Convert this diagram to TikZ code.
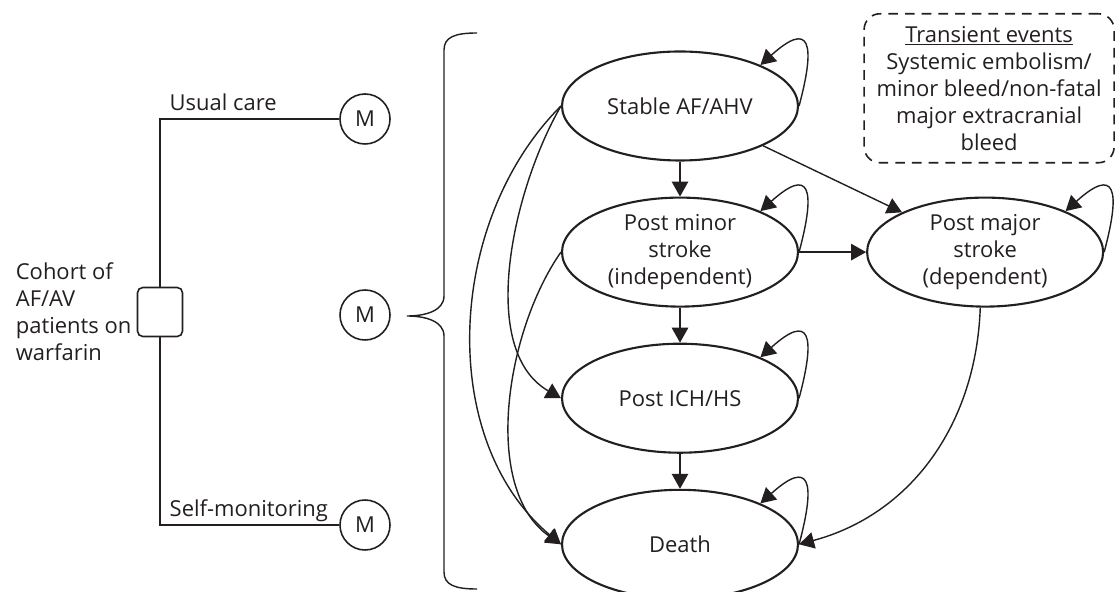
\documentclass[tikz,border=0pt]{standalone}
\usepackage{fontspec}
\setmainfont{Open Sans}
\definecolor{ink}{HTML}{231F20}
\usetikzlibrary{arrows.meta, positioning, shapes.geometric}
\tikzset{
	state/.style={draw=ink, ellipse, line width=1.2pt, minimum width=4.72cm, minimum height=2.18cm,
		inner sep=0pt, align=center},
	mnode/.style={draw=ink, circle, line width=0.9pt, minimum size=1cm, inner sep=0pt},
	decbox/.style={draw=ink, rounded corners=3pt, line width=0.9pt, minimum width=0.9cm, minimum height=0.98cm},
	notebox/.style={draw=ink, dash pattern=on 5.5pt off 4pt, rounded corners=9pt, line width=0.9pt,
		minimum width=5cm, minimum height=2.98cm, align=center, inner sep=0pt},
	tarr/.style={-{Triangle[length=3mm, width=3.3mm]}, line width=0.8pt, draw=ink},
	tline/.style={line width=0.8pt, draw=ink},
	lbl/.style={inner sep=0pt, anchor=base west, xshift=0.18cm, yshift=0.17cm},
	selfloop/.style={out=75, in=42, looseness=3}
}

\begin{document}
\begin{tikzpicture}[every node/.style={font=\fontsize{12.5}{15.4}\selectfont, text=ink}]
	\useasboundingbox (0,0) rectangle (22.32,11.84);
	% decision tree
	\node[decbox] (dec) at (3.2,5.6) {};
	\node[left=0.1cm of dec, align=left, inner sep=0pt] (cohort) {Cohort of\\AF/AV\\patients on\\warfarin};
	\node[mnode] (mtop) at (7.3,9.46) {M};
	\node[mnode] (mmid) at (7.3,5.54) {M};
	\node[mnode] (mbot) at (7.3,1.34) {M};
	\draw[tline] (dec.north) |- (mtop.west) node[lbl, pos=0.5] (ucare) {Usual care};
	\draw[tline] (dec.south) |- (mbot.west) node[lbl, pos=0.5] (selfmon) {Self-monitoring};
	% brace
	\coordinate (btip) at (8.14,5.52);
	\draw[tline] (9.54,11.18) .. controls (9.1,11.18) and (8.88,11.1) .. (8.88,10.84) -- (8.88,5.92)
		.. controls (8.88,5.62) and (8.5,5.52) .. (btip)
		.. controls (8.5,5.52) and (8.88,5.42) .. (8.88,5.12) -- (8.88,0.40)
		.. controls (8.88,0.14) and (9.1,0.06) .. (9.54,0.06);
	% Markov states
	\node[state] (stable) at (13.6,9.72) {Stable AF/AHV};
	\node[state, below=0.7cm of stable] (pminor) {Post minor\\stroke\\(independent)};
	\node[state, below=0.7cm of pminor] (ich) {Post ICH/HS};
	\node[state, below=0.7cm of ich] (death) {Death};
	\node[state, right=1.34cm of pminor] (pmajor) {Post major\\stroke\\(dependent)};
	\node[notebox, above=0.66cm of pmajor, xshift=0.08cm] (trans) {\underline{Transient events}\\Systemic embolism/\\minor bleed/non-fatal\\major extracranial\\bleed};
	% transitions
	\draw[tarr] (stable) -- (pminor);
	\draw[tarr] (pminor) -- (ich);
	\draw[tarr] (ich) -- (death);
	\draw[tarr] (stable) -- (pmajor);
	\draw[tarr] (pminor) -- (pmajor);
	\draw[tarr] (pmajor.265) to[out=-92, in=15] (death.east);
	\draw[tarr] (stable.west) to[out=225, in=140, looseness=0.95] (death.west);
	\draw[tarr] (stable.west) to[out=240, in=150, looseness=0.85] (ich.west);
	\draw[tarr] (pminor.west) to[out=235, in=145, looseness=0.85] (death.west);
	% self loops
	\draw[tarr] (stable.east) to[selfloop] (stable.27);
	\draw[tarr] (pminor.east) to[selfloop] (pminor.27);
	\draw[tarr] (ich.east) to[selfloop] (ich.27);
	\draw[tarr] (death.east) to[selfloop] (death.27);
	\draw[tarr] (pmajor.east) to[selfloop] (pmajor.27);
\end{tikzpicture}
\end{document}
